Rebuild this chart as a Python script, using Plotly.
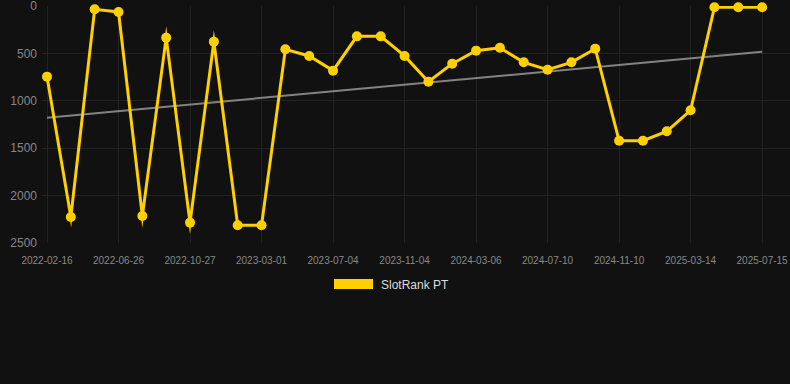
import plotly.graph_objects as go

dates = [
    "2022-02-16", "2022-03-31", "2022-05-13", "2022-06-26", "2022-08-06", "2022-09-16",
    "2022-10-27", "2022-12-08", "2023-01-19", "2023-03-01", "2023-04-12", "2023-05-23",
    "2023-07-04", "2023-08-14", "2023-09-24", "2023-11-04", "2023-12-15", "2024-01-25",
    "2024-03-06", "2024-04-17", "2024-05-29", "2024-07-10", "2024-08-20", "2024-09-30",
    "2024-11-10", "2024-12-21", "2025-01-31", "2025-03-14", "2025-04-24", "2025-06-04",
    "2025-07-15",
]
rank = [
    745, 2225, 35, 63, 2215, 334,
    2285, 376, 2313, 2313, 457, 527,
    682, 320, 320, 527, 798, 608,
    471, 440, 594, 672, 594, 450,
    1421, 1421, 1322, 1100, 14, 14,
    14,
]
trend_x = [dates[0], dates[-1]]
trend_y = [1178, 482]
tick_dates = dates[::3]
y_ticks = [0, 500, 1000, 1500, 2000, 2500]
series_name = "SlotRank PT"

GOLD = "#FFD000"
BG = "#111111"

fig = go.Figure()
fig.add_trace(go.Scatter(
    x=trend_x, y=trend_y, mode="lines",
    line=dict(color="rgba(150,150,150,0.85)", width=2),
    hoverinfo="skip", showlegend=False,
))
fig.add_trace(go.Scatter(
    x=dates, y=rank, mode="lines+markers", name=series_name,
    line=dict(color=GOLD, width=3),
    marker=dict(color=GOLD, size=10),
    cliponaxis=False, showlegend=False,
))

L, R, T, B = 42, 0, 6, 141
W, H = 790, 384
pw, ph = W - L - R, H - T - B

def px_x(p):
    return (p - L) / pw

def px_y(p):
    return (H - B - p) / ph

fig.add_shape(type="rect", xref="paper", yref="paper",
              x0=px_x(334), x1=px_x(373), y0=px_y(289), y1=px_y(279),
              fillcolor=GOLD, line=dict(width=0))
fig.add_annotation(xref="paper", yref="paper", x=px_x(379), y=px_y(285),
                   text=series_name, showarrow=False, xanchor="left", yanchor="middle",
                   font=dict(color="#dddddd", size=12, family="Liberation Sans, Arial, sans-serif"))

fig.update_layout(
    width=W, height=H,
    margin=dict(l=L, r=R, t=T, b=B),
    paper_bgcolor=BG, plot_bgcolor=BG,
    showlegend=False,
    font=dict(family="Liberation Sans, Arial, sans-serif", color="#888888"),
    xaxis=dict(
        type="category", categoryorder="array", categoryarray=dates,
        range=[-0.21, 31.17],
        tickmode="array", tickvals=tick_dates, ticktext=tick_dates,
        tickfont=dict(size=10, color="#888888"),
        showgrid=True, gridcolor="#222222", gridwidth=1,
        zeroline=False, showline=False,
        ticks="outside", ticklen=8, tickcolor=BG,
        ticklabeloverflow="allow",
    ),
    yaxis=dict(
        range=[2500, 0],
        tickmode="array", tickvals=y_ticks, ticktext=[str(v) for v in y_ticks],
        tickfont=dict(size=12, color="#888888"),
        showgrid=True, gridcolor="#222222", gridwidth=1,
        zeroline=False, showline=False, ticks="",
        ticklabelstandoff=4,
        ticklabeloverflow="allow",
    ),
)

post = (
    "document.body.style.margin='0';"
    "document.body.style.background='#111111';"
    "document.querySelectorAll('.scatterlayer .js-line').forEach(function(p){"
    "p.style.strokeLinejoin='miter';p.style.strokeMiterlimit='10';});"
)

fig.write_html(
    "out.html",
    config={"displayModeBar": False},
    post_script=post,
)
